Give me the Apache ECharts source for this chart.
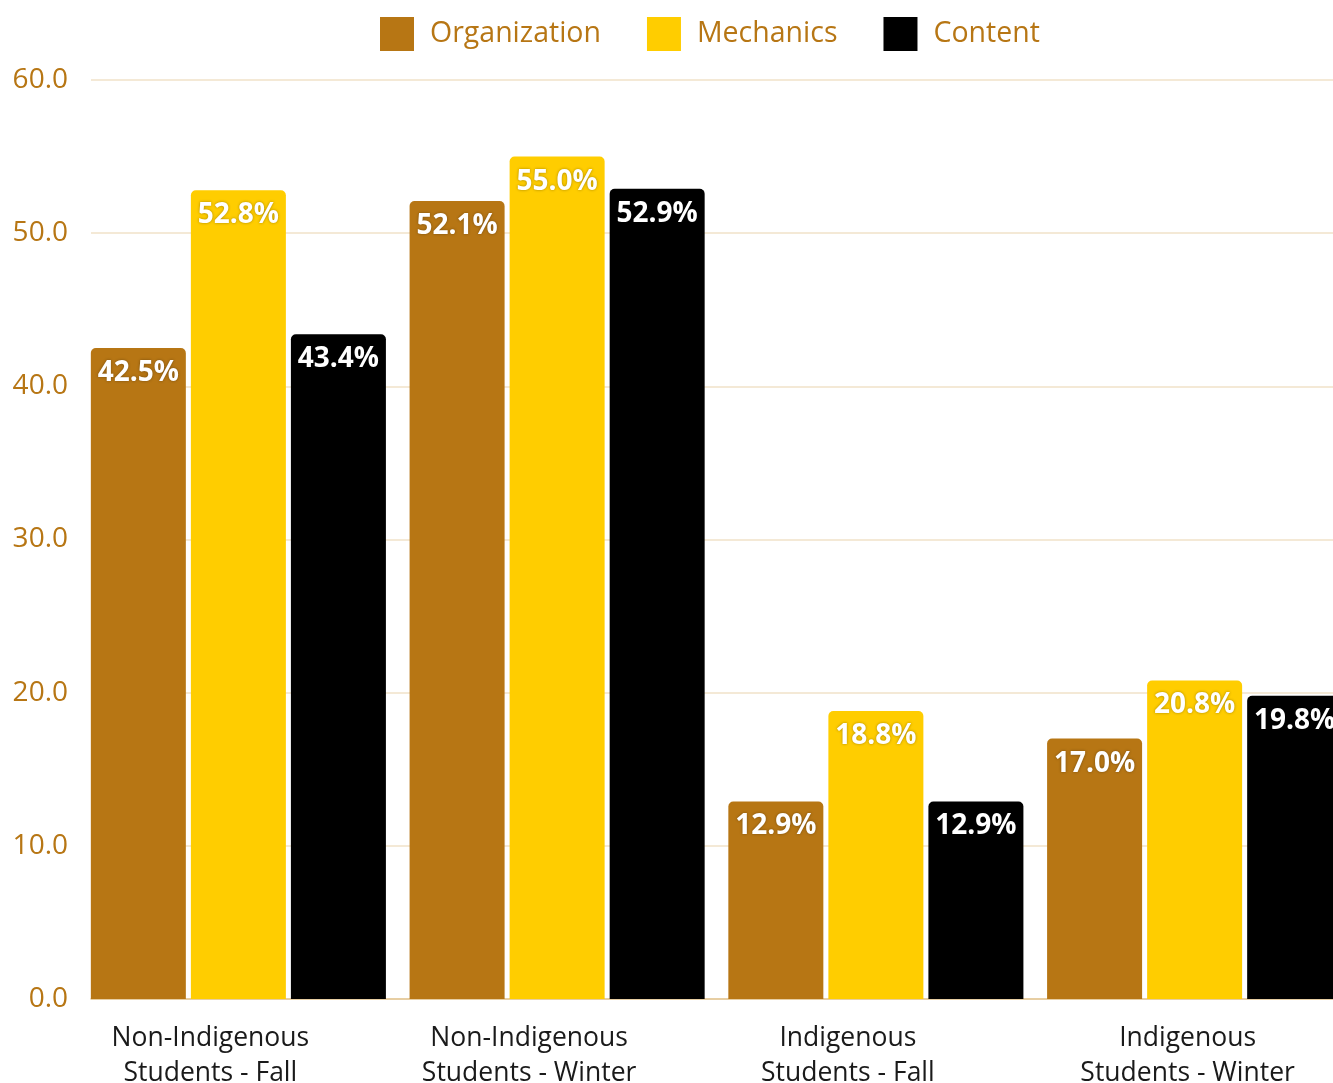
<!DOCTYPE html>
<html>
<head>
<meta charset="utf-8">
<title>Organization, Mechanics and Content by student group</title>
<script src="https://cdn.jsdelivr.net/npm/echarts@6/dist/echarts.min.js"></script>
<style>
  html, body { margin: 0; padding: 0; background: #ffffff; }
  #chart { width: 1333px; height: 1083px; }
</style>
</head>
<body>
<div id="chart"></div>
<script>
// Student groups along the horizontal axis
const categories = [
  'Non-Indigenous\nStudents - Fall',
  'Non-Indigenous\nStudents - Winter',
  'Indigenous\nStudents - Fall',
  'Indigenous\nStudents - Winter'
];

// Percentages per writing criterion
const organization = [42.5, 52.1, 12.9, 17.0];
const mechanics    = [52.8, 55.0, 18.8, 20.8];
const content      = [43.4, 52.9, 12.9, 19.8];

// Value axis ticks
const yTicks = [0, 10, 20, 30, 40, 50, 60];

const GOLD = '#b77614';
const YELLOW = '#ffcd00';
const BLACK = '#000000';
const FONT = '"Open Sans", "Noto Sans", sans-serif';

const chart = echarts.init(document.getElementById('chart'), null, { renderer: 'canvas' });

const valueLabel = {
  show: true,
  position: 'insideTop',
  distance: 11,
  color: '#ffffff',
  fontFamily: FONT,
  fontWeight: 'bold',
  fontSize: 28,
  textShadowColor: 'rgba(0,0,0,0.35)',
  textShadowBlur: 3,
  formatter: p => p.value.toFixed(1) + '%'
};

function barSeries(name, values, color) {
  return {
    name: name,
    type: 'bar',
    xAxisIndex: 1,
    yAxisIndex: 1,
    data: values,
    barWidth: 95,
    barGap: '5.3%',
    itemStyle: { color: color, borderRadius: [5, 5, 0, 0] },
    label: valueLabel
  };
}

const catText = { fontFamily: FONT, fontSize: 26.5, color: '#1a1a1a', lineHeight: 35 };

chart.setOption({
  backgroundColor: '#ffffff',
  animation: false,
  textStyle: { fontFamily: FONT },
  legend: {
    left: 375,
    top: 12,
    itemWidth: 34,
    itemHeight: 34,
    itemGap: 46,
    icon: 'rect',
    itemStyle: { borderRadius: 2 },
    textStyle: { color: GOLD, fontSize: 28.5, fontFamily: FONT, padding: [0, 0, 0, 11] },
    data: ['Organization', 'Mechanics', 'Content']
  },
  grid: [
    // frame for gridlines, value labels and the baseline
    { left: 91, right: 0, top: 80, bottom: 84, outerBoundsMode: 'none' },
    // frame for the bar groups; the last group runs past the right edge
    { left: 79, width: 1275, top: 80, bottom: 84, outerBoundsMode: 'none' }
  ],
  xAxis: [
    {
      gridIndex: 0,
      type: 'category',
      data: categories,
      axisLine: { show: true, lineStyle: { color: '#e2c593', width: 1.5 } },
      axisTick: { show: false },
      axisLabel: { show: false },
      splitLine: { show: false }
    },
    {
      gridIndex: 1,
      type: 'category',
      data: categories,
      axisLine: { show: false },
      axisTick: { show: false },
      axisLabel: {
        margin: 22,
        interval: 0,
        formatter: (v, i) => {
          const tag = i === categories.length - 1 ? 'b' : 'a';
          return v.split('\n').map(s => '{' + tag + '|' + s + '}').join('\n');
        },
        rich: {
          a: Object.assign({ padding: [0, 56, 0, 0] }, catText),
          b: Object.assign({ padding: [0, 14, 0, 0] }, catText)
        }
      }
    }
  ],
  yAxis: [
    {
      gridIndex: 0,
      type: 'value',
      min: yTicks[0],
      max: yTicks[yTicks.length - 1],
      interval: yTicks[1] - yTicks[0],
      axisLine: { show: false },
      axisTick: { show: false },
      axisLabel: {
        margin: 23,
        color: GOLD,
        fontFamily: FONT,
        fontSize: 28,
        padding: [4, 0, 0, 0],
        formatter: v => v.toFixed(1)
      },
      splitLine: { lineStyle: { color: '#f0e2c8', width: 1.5 } }
    },
    {
      gridIndex: 1,
      type: 'value',
      min: yTicks[0],
      max: yTicks[yTicks.length - 1],
      interval: yTicks[1] - yTicks[0],
      show: false,
      splitLine: { show: false }
    }
  ],
  series: [
    barSeries('Organization', organization, GOLD),
    barSeries('Mechanics', mechanics, YELLOW),
    barSeries('Content', content, BLACK)
  ]
});
</script>
</body>
</html>
